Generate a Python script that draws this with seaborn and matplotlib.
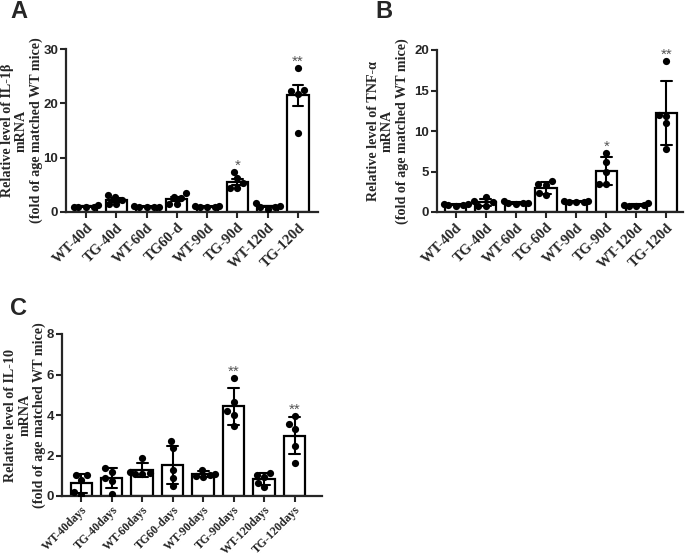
import numpy as np
import pandas as pd
import matplotlib
matplotlib.use("Agg")
import matplotlib.pyplot as plt
import seaborn as sns

# ---------------- data ----------------
cats_a = ["WT-40d", "TG-40d", "WT-60d", "TG60-d", "WT-90d", "TG-90d", "WT-120d", "TG-120d"]
il1b = [
    [1.2, 1.0, 0.9, 1.0, 1.0],
    [3.2, 2.7, 2.3, 1.4, 1.4],
    [1.1, 1.0, 0.9, 1.0, 0.95],
    [3.5, 2.8, 2.5, 1.5, 1.4],
    [1.1, 1.0, 0.85, 1.0, 1.05],
    [7.4, 6.2, 5.3, 4.4, 4.4],
    [1.6, 1.1, 0.9, 0.6, 0.9],
    [26.5, 22.3, 21.8, 22.5, 14.5],
]
stars_a = ["", "", "", "", "", "*", "", "**"]

cats_b = ["WT-40d", "TG-40d", "WT-60d", "TG-60d", "WT-90d", "TG-90d", "WT-120d", "TG-120d"]
tnfa = [
    [1.0, 0.9, 0.8, 0.9, 0.95],
    [1.8, 1.3, 1.2, 0.8, 0.8],
    [1.3, 1.1, 1.0, 1.1, 1.05],
    [3.8, 3.4, 3.3, 2.3, 2.1],
    [1.4, 1.3, 1.2, 1.2, 1.25],
    [7.3, 6.2, 5.0, 3.5, 3.4],
    [1.1, 0.9, 0.8, 0.9, 0.8],
    [18.6, 12.0, 11.9, 11.0, 7.8],
]
stars_b = ["", "", "", "", "", "*", "", "**"]

cats_c = ["WT-40days", "TG-40days", "WT-60days", "TG60-days", "WT-90days",
          "TG-90days", "WT-120days", "TG-120days"]
il10 = [
    [1.05, 1.05, 0.8, 0.2, 0.05],
    [1.4, 1.2, 0.9, 0.75, 0.1],
    [1.9, 1.2, 1.15, 1.1, 1.1],
    [2.7, 2.35, 1.3, 0.9, 0.5],
    [1.3, 1.1, 1.05, 1.0, 0.95],
    [5.85, 4.65, 4.2, 4.0, 3.45],
    [1.15, 1.05, 0.95, 0.65, 0.45],
    [3.95, 3.55, 3.3, 2.45, 1.65],
]
stars_c = ["", "", "", "", "", "**", "", "**"]

ylabels = ["Relative level of IL-1\u03b2\nmRNA\n(fold of age matched WT mice)",
           "Relative level of TNF-\u03b1\nmRNA\n(fold of age matched WT mice)",
           "Relative level of IL-10\nmRNA\n(fold of age matched WT mice)"]

# ---------------- style ----------------
sns.set_style("ticks")
plt.rcParams["font.family"] = ["Liberation Sans", "DejaVu Sans"]

W, H = 685, 559
fig = plt.figure(figsize=(W / 100, H / 100), dpi=100)


def px_axes(x0, x1, ytop, ybot):
    return fig.add_axes([x0 / W, 1 - ybot / H, (x1 - x0) / W, (ybot - ytop) / H])


def long_df(cats, vals):
    rows = []
    for c, vs in zip(cats, vals):
        for v in vs:
            rows.append((c, v))
    return pd.DataFrame(rows, columns=["group", "value"])


panels = [
    dict(cats=cats_a, vals=il1b, stars=stars_a, err="se", ylim=30, yt=[0, 10, 20, 30],
         box=(66, 318, 49, 212), xlim=(-0.66, 7.66), lab=ylabels[0], labx=-0.092,
         xfs=10.5, xpad=2, letter="A", lpos=(10, 18)),
    dict(cats=cats_b, vals=tnfa, stars=stars_b, err="sd", ylim=20, yt=[0, 5, 10, 15, 20],
         box=(437, 683, 50, 212), xlim=(-0.62, 7.55), lab=ylabels[1], labx=-0.115,
         xfs=10.5, xpad=2, letter="B", lpos=(375, 18)),
    dict(cats=cats_c, vals=il10, stars=stars_c, err="sd", ylim=8, yt=[0, 2, 4, 6, 8],
         box=(62, 322, 334, 496), xlim=(-0.63, 7.9), lab=ylabels[2], labx=-0.06,
         xfs=8.6, xpad=1, letter="C", lpos=(10, 315)),
]

for p in panels:
    ax = px_axes(*p["box"])
    df = long_df(p["cats"], p["vals"])
    sns.barplot(data=df, x="group", y="value", order=p["cats"], ax=ax,
                errorbar=p["err"], capsize=0.36, width=0.7,
                color="white", edgecolor="black", linewidth=1.6,
                err_kws={"color": "black", "linewidth": 1.5}, zorder=2)
    sns.swarmplot(data=df, x="group", y="value", order=p["cats"], ax=ax,
                  color="black", size=5.2, zorder=3)
    ax.set_xlim(*p["xlim"])
    ax.set_ylim(0, p["ylim"])
    ax.set_yticks(p["yt"])
    ax.set_xlabel("")
    ax.set_ylabel(p["lab"], family=["Liberation Serif", "DejaVu Serif"],
                  fontweight="bold", fontsize=10.2, linespacing=1.12)
    ax.yaxis.set_label_coords(p["labx"], 0.5)
    sns.despine(ax=ax)
    for s in ("left", "bottom"):
        ax.spines[s].set_linewidth(1.6)
    ax.tick_params(axis="y", width=1.5, length=4, pad=1.5)
    ax.tick_params(axis="x", width=1.5, length=4.5, pad=p["xpad"])
    for t in ax.get_yticklabels():
        t.set_fontweight("bold")
        t.set_fontsize(9.5)
        t.set_family(["Liberation Sans", "DejaVu Sans"])
    ax.set_xticks(range(len(p["cats"])))
    ax.set_xticklabels(p["cats"], rotation=45, ha="right", rotation_mode="anchor",
                       family=["Liberation Serif", "DejaVu Serif"],
                       fontweight="bold", fontsize=p["xfs"])
    for i, (st, vs) in enumerate(zip(p["stars"], p["vals"])):
        if st:
            ax.annotate(st, xy=(i, max(vs)), xytext=(0, 1.5), textcoords="offset points",
                        ha="center", va="baseline", fontsize=11, color="#555555",
                        annotation_clip=False)
    fig.text(p["lpos"][0] / W, 1 - p["lpos"][1] / H, p["letter"], fontsize=17,
             fontweight="bold", ha="left", va="baseline")

fig.savefig("out.png", dpi=100)
